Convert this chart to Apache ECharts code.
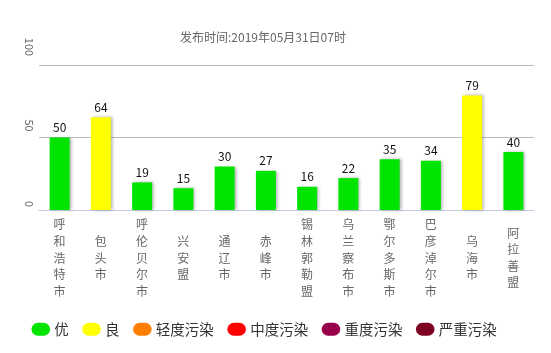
<!DOCTYPE html>
<html>
<head>
<meta charset="utf-8">
<style>
  html, body { margin: 0; padding: 0; background: #fff; }
  #chart { width: 551px; height: 353px; }
</style>
<script src="https://cdn.jsdelivr.net/npm/echarts@6/dist/echarts.min.js"></script>
</head>
<body>
<div id="chart"></div>
<script>
const cities = ['呼和浩特市', '包头市', '呼伦贝尔市', '兴安盟', '通辽市', '赤峰市',
    '锡林郭勒盟', '乌兰察布市', '鄂尔多斯市', '巴彦淖尔市', '乌海市', '阿拉善盟'];
const aqiValues = [50, 64, 19, 15, 30, 27, 16, 22, 35, 34, 79, 40];
const levelNames = ['优', '良', '轻度污染', '中度污染', '重度污染', '严重污染'];
const levelLimits = [50, 100, 150, 200, 300, 500];
const publishTime = '发布时间:2019年05月31日07时';

const levelColors = ['#00e400', '#ffff00', '#ff7e00', '#ff0000', '#99004c', '#7e0023'];
const font = '"Noto Sans CJK SC", "Noto Sans", sans-serif';

function levelOf(v) {
    for (let i = 0; i < levelLimits.length; i++) {
        if (v <= levelLimits[i]) return i;
    }
    return levelLimits.length - 1;
}

let barData = aqiValues.map(function (v) {
    return { value: v, itemStyle: { color: levelColors[levelOf(v)] } };
});

// legend only series, no data
let legendSeries = levelNames.map(function (name, i) {
    return { name: name, type: 'line', data: [], itemStyle: { color: levelColors[i] } };
});

let chart = echarts.init(document.getElementById('chart'));
let option = {
    animation: false,
    title: {
        text: publishTime,
        left: 175,
        top: 26,
        textStyle: { fontSize: 12, fontWeight: 'normal', color: '#666', fontFamily: font }
    },
    legend: {
        data: levelNames,
        left: 31.5,
        top: 322,
        padding: 0,
        itemWidth: 21,
        itemHeight: 13,
        itemGap: 13.5,
        icon: 'path://M7,0 L13,0 A7,7 0 0 1 13,14 L7,14 A7,7 0 0 1 7,0 Z',
        textStyle: { fontSize: 14.5, color: '#333', fontFamily: font, padding: [0, 0, 0, -2] }
    },
    grid: { left: 39, right: 17, top: 65, bottom: 143 },
    xAxis: {
        type: 'category',
        data: cities,
        axisLine: { lineStyle: { color: '#c0cbe0' } },
        axisTick: { length: 4, lineStyle: { color: '#c0cbe0' } },
        axisLabel: {
            interval: 0,
            margin: 48,
            verticalAlign: 'middle',
            color: '#666',
            fontSize: 12,
            lineHeight: 16.6,
            fontFamily: font,
            formatter: function (v) { return v.split('').join('\n'); }
        }
    },
    yAxis: {
        type: 'value',
        min: 0,
        max: 100,
        interval: 50,
        axisLine: { show: false },
        axisTick: { show: false },
        splitLine: { lineStyle: { color: '#bbb' } },
        axisLabel: {
            rotate: -90,
            margin: 4,
            color: '#666',
            fontSize: 11,
            fontFamily: font,
            formatter: function (v) { return '{p' + String(v).length + '|' + v + '}'; },
            rich: {
                p1: { padding: [0, 12, 0, 0], fontSize: 11, color: '#666' },
                p2: { padding: [0, 24, 0, 0], fontSize: 11, color: '#666' },
                p3: { padding: [0, 36, 0, 0], fontSize: 11, color: '#666' }
            }
        }
    },
    series: [{
        name: 'AQI',
        type: 'bar',
        barWidth: 20,
        data: barData,
        itemStyle: {
            shadowColor: 'rgba(0,0,0,0.3)',
            shadowBlur: 3,
            shadowOffsetX: 2
        },
        label: {
            show: true,
            position: 'top',
            distance: 4,
            color: '#111',
            fontSize: 12,
            fontFamily: font
        }
    }].concat(legendSeries)
};
chart.setOption(option);
</script>
</body>
</html>
